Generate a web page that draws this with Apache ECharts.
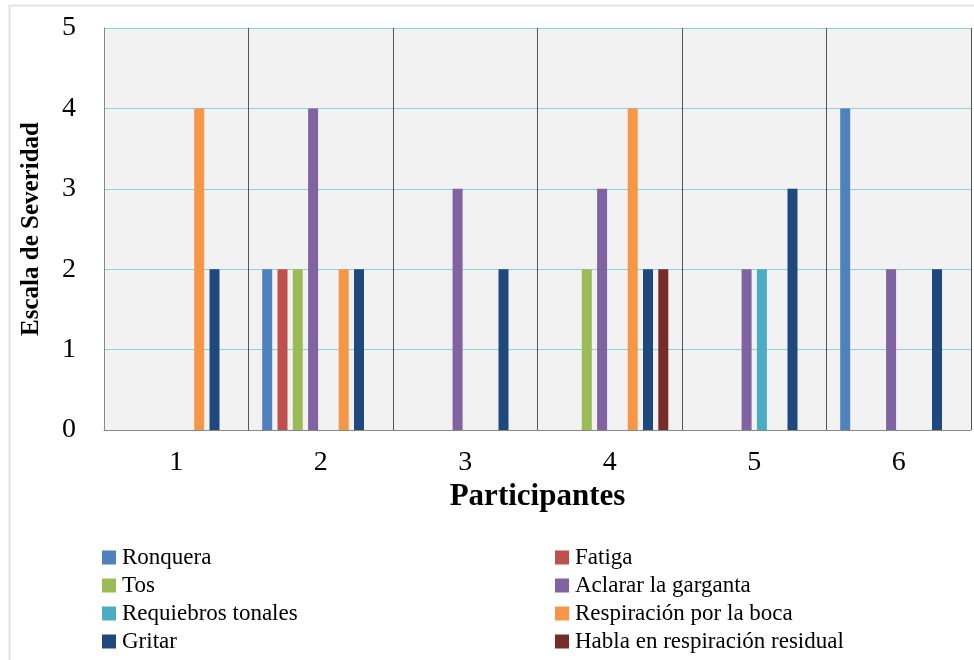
<!DOCTYPE html>
<html><head><meta charset="utf-8">
<script src="https://cdn.jsdelivr.net/npm/echarts@6/dist/echarts.min.js"></script>
<style>html,body{margin:0;padding:0;background:#fff}#c{width:974px;height:660px}</style>
</head><body><div id="c"></div>
<script>
const categories = ['1','2','3','4','5','6'];
const seriesNames = ['Ronquera','Fatiga','Tos','Aclarar la garganta','Requiebros tonales','Respiración por la boca','Gritar','Habla en respiración residual'];
const ronquera   = [0,2,0,0,0,4];
const fatiga     = [0,2,0,0,0,0];
const tos        = [0,2,0,2,0,0];
const aclarar    = [0,4,3,3,2,2];
const requiebros = [0,0,0,0,2,0];
const respiracion= [4,2,0,4,0,0];
const gritar     = [2,2,2,2,3,2];
const habla      = [0,0,0,2,0,0];
const yTicks = [0,1,2,3,4,5];
const colors = ['#4f81bd','#c0504d','#9bbb59','#8064a2','#4bacc6','#f79646','#1f497d','#772c2a'];
const values = [ronquera,fatiga,tos,aclarar,requiebros,respiracion,gritar,habla];

const serif = 'Liberation Serif';
const legendText = {fontFamily:serif,fontSize:23,color:'#000',padding:[0,0,0,1]};
const chart = echarts.init(document.getElementById('c'));
chart.setOption({
  animation:false,
  backgroundColor:'#fff',
  textStyle:{fontFamily:serif},
  color:colors,
  graphic:[{type:'rect',shape:{x:9.5,y:5.5,width:980,height:700},style:{fill:'none',stroke:'#e2e2e2',lineWidth:2},z:-10}],
  grid:{left:104,top:28,width:867,height:402,show:true,backgroundColor:'#f2f2f2',borderWidth:0},
  legend:[
    {orient:'vertical',left:97,top:541,height:200,itemWidth:14,itemHeight:14,itemGap:5,icon:'rect',
     data:[seriesNames[0],seriesNames[2],seriesNames[4],seriesNames[6]],textStyle:legendText},
    {orient:'vertical',left:550,top:541,height:200,itemWidth:14,itemHeight:14,itemGap:5,icon:'rect',
     data:[seriesNames[1],seriesNames[3],seriesNames[5],seriesNames[7]],textStyle:legendText}
  ],
  xAxis:{type:'category',data:categories,
    name:'Participantes',nameLocation:'middle',nameGap:50,
    nameTextStyle:{fontFamily:serif,fontSize:31,fontWeight:'bold',color:'#000'},
    axisLine:{show:true,lineStyle:{color:'#888',width:1}},
    axisTick:{show:false},
    axisLabel:{fontFamily:serif,fontSize:28,color:'#000',margin:19},
    splitLine:{show:true,lineStyle:{color:'#555',width:1}}
  },
  yAxis:{type:'value',min:0,max:5,interval:1,
    name:'Escala de Severidad',nameLocation:'middle',nameGap:60,
    nameTextStyle:{fontFamily:serif,fontSize:25,fontWeight:'bold',color:'#000'},
    axisLine:{show:true,lineStyle:{color:'#888',width:1}},
    axisTick:{show:false},
    axisLabel:{fontFamily:serif,fontSize:28,color:'#000',margin:28,formatter:v=>String(yTicks[v]??v)},
    splitLine:{show:true,lineStyle:{color:'#8ecfdc',width:1}}
  },
  series: seriesNames.map((n,i)=>({
    name:n,type:'bar',data:values[i],barWidth:10,barGap:'53%',barCategoryGap:'19%',
    itemStyle:{color:colors[i]}
  }))
});
</script></body></html>
